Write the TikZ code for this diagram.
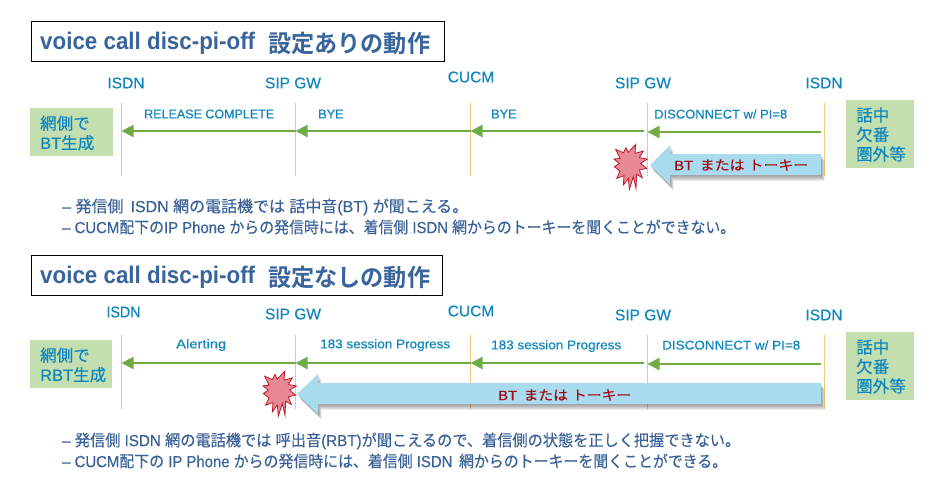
\documentclass[tikz,border=0pt]{standalone}
\usepackage{fontspec}
\setmainfont[RawFeature={embolden=0.35}]{Liberation Sans}
\newfontfamily\titlefont{Liberation Sans Bold}
\newfontfamily\jpfont[RawFeature={embolden=0.25}]{Noto Sans CJK JP}
\newfontfamily\jptitle{Noto Sans CJK JP Bold}
\newcommand{\J}[1]{{\jpfont #1}}
\newcommand{\fitw}[2]{\resizebox{#1pt}{\height}{#2}}
\usetikzlibrary{arrows.meta}
\definecolor{lblue}{HTML}{0F86BE}
\definecolor{tblue}{HTML}{3A659C}
\definecolor{bodyblue}{HTML}{3A6298}
\definecolor{boxgreen}{HTML}{C3DFB0}
\definecolor{arrowgreen}{HTML}{6FAC46}
\definecolor{lifeline}{HTML}{EFCB72}
\definecolor{blockblue}{HTML}{A9DBEF}
\definecolor{starfill}{HTML}{E78A95}
\definecolor{staredge}{HTML}{C0182C}
\definecolor{darkred}{HTML}{A00A14}
\tikzset{
  titlebox/.style={draw=black,line width=1pt,fill=white,inner sep=0pt},
  titletext/.style={text=tblue,font=\titlefont\fontsize{24}{26}\selectfont,inner sep=0pt,anchor=west},
  party/.style={text=lblue,font=\fontsize{15.5}{17}\selectfont,inner sep=0pt},
  msg/.style={text=lblue,font=\fontsize{12.7}{14}\selectfont,inner sep=0pt,anchor=west},
  life/.style={draw=lifeline,line width=1.2pt},
  greenbox/.style={fill=boxgreen,inner sep=0pt},
  boxtext/.style={text=lblue,font=\fontsize{16.5}{19.5}\selectfont,inner sep=0pt,anchor=west,align=left},
  callarrow/.style={draw=arrowgreen,line width=2.2pt,-{Triangle[length=12pt,width=12pt]}},
  shadowstep/.style={preaction={fill=black,fill opacity=.075,transform canvas={xshift=#1pt,yshift=-#1pt*1.6}}},
  block/.style={shadowstep=.6,shadowstep=1.2,shadowstep=1.8,shadowstep=2.4,shadowstep=3,shadowstep=3.6,fill=blockblue},
  blocktext/.style={text=darkred,font=\fontsize{13.5}{15}\selectfont,inner sep=0pt,anchor=west},
  bodytext/.style={text=bodyblue,font=\fontsize{16}{18}\selectfont,inner sep=0pt,anchor=west},
  burst/.pic={
    \draw[fill=starfill,draw=staredge,line width=.8pt,line join=miter,x=.333pt,y=-.333pt]
      (-43,-52)--(-20,-42)--(-12,-57)--(-5,-43)--(17,-67)--(15,-40)--(40,-47)--(28,-27)--(52,-23)--(32,-10)
      --(50,5)--(28,10)--(37,33)--(20,23)--(18,65)--(10,30)--(-2,68)--(-5,35)--(-20,55)--(-18,27)--(-40,35)
      --(-30,13)--(-47,0)--(-32,-10)--(-48,-23)--(-30,-25)--cycle;
  }
}
\begin{document}
\begin{tikzpicture}[x=1pt,y=-1pt]
\useasboundingbox (0,0) rectangle (942,480);
\fill[white] (0,0) rectangle (942,480);

% ---------- top panel ----------
\node[titlebox,minimum width=413pt,minimum height=39.5pt,anchor=north west] (t1) at (30.5,21) {};
\node[titletext] (t1a) at (40,43) {\fitw{215}{voice call disc-pi-off}};
\node[titletext] (t1b) at (268,43) {\fitw{162}{\jptitle 設定ありの動作}};

\node[party] (p1a) at (126,83) {ISDN};
\node[party] (p1b) at (293,83) {SIP GW};
\node[party] (p1c) at (471,77) {CUCM};
\node[party] (p1d) at (643,83) {SIP GW};
\node[party] (p1e) at (824,83) {ISDN};

\foreach \n/\x in {a/121.5,b/295.5,c/470.5,d/647.5,e/824.5}{
  \coordinate (t\n) at (\x,103);
  \coordinate (b\n) at (\x,176);
  \draw[life] (t\n) -- (b\n);
}
\node[greenbox,minimum width=83pt,minimum height=48pt,anchor=north west] (g1l) at (30,108) {};
\node[greenbox,minimum width=68pt,minimum height=68pt,anchor=north west] (g1r) at (846,100) {};
\node[boxtext] (g1lt) at (40,133) {\J{網側で}\\BT\J{生成}};
\node[boxtext] (g1rt) at (856,134.5) {\J{話中}\\\J{欠番}\\\J{圏外等}};

\node[msg] (m1a) at (144,114) {\fitw{130}{RELEASE COMPLETE}};
\node[msg] (m1b) at (318,114) {BYE};
\node[msg] (m1c) at (491,114) {BYE};
\node[msg] (m1d) at (654,114) {\fitw{133}{DISCONNECT w/ PI=8}};

\coordinate (s1e) at (821,132);
\coordinate (s1ee) at (647.5,132);
\coordinate (s1d) at (644,131);
\coordinate (s1c) at (470.5,131);
\coordinate (s1b) at (295.5,131);
\coordinate (s1a) at (121.5,131);
\draw[callarrow] (s1e) -- (s1ee);
\draw[callarrow] (s1d) -- (s1c);
\draw[callarrow] (s1c) -- (s1b);
\draw[callarrow] (s1b) -- (s1a);

\path[block] (650,165) -- (670,145) -- (670,154) -- (821,154) -- (821,175) -- (670,175) -- (670,185) -- cycle;
\node[blocktext] (b1t) at (674,165) {\fitw{134}{BT \,\J{または} \J{トーキー}}};
\pic (s1) at (630,166.7) {burst};

\node[bodytext] (l1a) at (62,207) {\fitw{406}{–\;\J{発信側}\, ISDN \J{網の電話機では} \J{話中音}(BT) \J{が聞こえる。}}};
\node[bodytext] (l1b) at (62,227) {\fitw{673}{–\;CUCM\J{配下の}IP Phone \J{からの発信時には、着信側} ISDN \J{網からのトーキーを聞くことができない。}}};

% ---------- bottom panel ----------
\node[titlebox,minimum width=411pt,minimum height=39.5pt,anchor=north west] (t2) at (30.5,255) {};
\node[titletext] (t2a) at (40,277) {\fitw{215}{voice call disc-pi-off}};
\node[titletext] (t2b) at (268,277) {\fitw{162}{\jptitle 設定なしの動作}};

\node[party] (p2a) at (123.5,312) {\fitw{34}{ISDN}};
\node[party] (p2b) at (293,314) {SIP GW};
\node[party] (p2c) at (471,311) {CUCM};
\node[party] (p2d) at (643,315) {SIP GW};
\node[party] (p2e) at (824,315) {ISDN};

\foreach \n/\x in {a/121.5,b/295.5,c/470.5,d/647.5,e/824.5}{
  \coordinate (u\n) at (\x,335);
  \coordinate (v\n) at (\x,409);
  \draw[life] (u\n) -- (v\n);
}
\node[greenbox,minimum width=82pt,minimum height=48pt,anchor=north west] (g2l) at (30,340) {};
\node[greenbox,minimum width=68pt,minimum height=68pt,anchor=north west] (g2r) at (846,332) {};
\node[boxtext] (g2lt) at (40,365) {\J{網側で}\\RBT\J{生成}};
\node[boxtext] (g2rt) at (856,366.5) {\J{話中}\\\J{欠番}\\\J{圏外等}};

\node[msg] (m2a) at (176,345) {\fitw{50}{Alerting}};
\node[msg] (m2b) at (320,345) {\fitw{130}{183 session Progress}};
\node[msg] (m2c) at (491,346) {\fitw{130}{183 session Progress}};
\node[msg] (m2d) at (662,345) {\fitw{138}{DISCONNECT w/ PI=8}};

\coordinate (s2e) at (821,364);
\coordinate (s2ee) at (647.5,364);
\coordinate (s2d) at (644,363);
\coordinate (s2c) at (470.5,363);
\coordinate (s2b) at (295.5,363);
\coordinate (s2a) at (121.5,363);
\draw[callarrow] (s2e) -- (s2ee);
\draw[callarrow] (s2d) -- (s2c);
\draw[callarrow] (s2c) -- (s2b);
\draw[callarrow] (s2b) -- (s2a);

\path[block] (297,394) -- (318,374) -- (318,383) -- (821,383) -- (821,404) -- (318,404) -- (318,414) -- cycle;
\node[blocktext] (b2t) at (498,395) {\fitw{133}{BT \,\J{または} \J{トーキー}}};
\pic (s2) at (279,393.5) {burst};

\node[bodytext] (l2a) at (62,441) {\fitw{678}{–\;\J{発信側} ISDN \J{網の電話機では} \J{呼出音}(RBT)\J{が聞こえるので、着信側の状態を正しく把握できない。}}};
\node[bodytext] (l2b) at (62,461) {\fitw{665}{–\;CUCM\J{配下の} IP Phone \J{からの発信時には、着信側} ISDN \,\J{網からのトーキーを聞くことができる。}}};
\end{tikzpicture}
\end{document}
